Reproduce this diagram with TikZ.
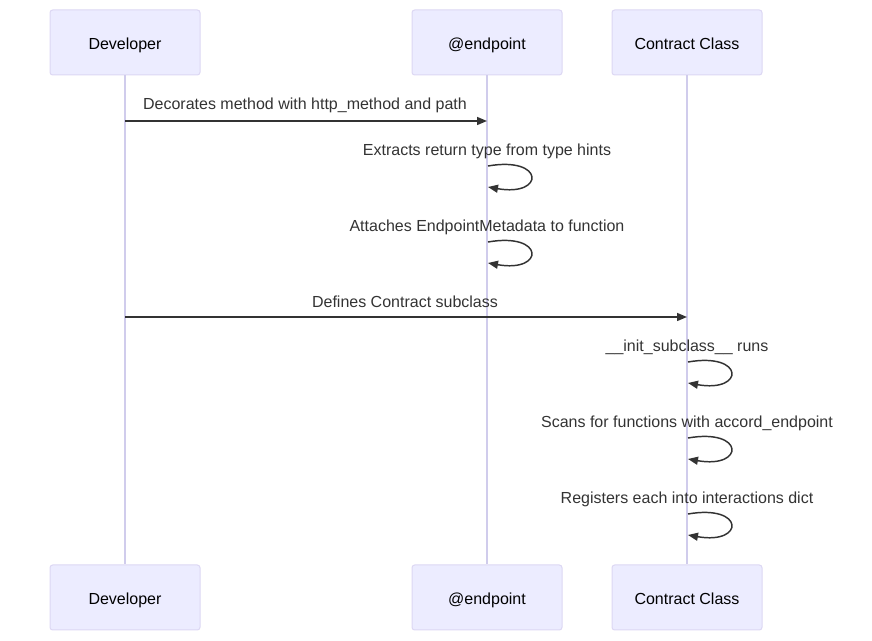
\documentclass[tikz,border=0pt]{standalone}
\usepackage{fontspec}
\setmainfont{Liberation Sans}
\usetikzlibrary{arrows.meta}
\definecolor{actorfill}{HTML}{ECECFF}
\definecolor{actorline}{HTML}{DCD7F3}
\definecolor{lifeline}{HTML}{D0CCEC}
\definecolor{msgline}{HTML}{333333}

\tikzset{
  actor/.style={draw=actorline, fill=actorfill, rounded corners=2pt, line width=0.75pt,
    minimum width=112.5pt, minimum height=48.75pt, inner sep=0pt,
    text height=11.2pt, text depth=0pt,
    font=\fontsize{12}{14}\selectfont},
  life/.style={draw=lifeline, line width=1.1pt},
  msg/.style={draw=msgline, line width=1.1pt, -{Triangle[length=7.5pt,width=6pt]}},
  msgtext/.style={text=msgline, inner sep=0pt, text height=11.2pt, text depth=0pt,
    font=\fontsize{12}{14}\selectfont}
}

\begin{document}
\begin{tikzpicture}[x=0.75pt,y=-0.75pt]
\useasboundingbox (0,0) rectangle (872,641);

% actors, top row
\node[actor] (devtop) at (125,42.5) {Developer};
\node[actor] (endptop) at (487,42.5) {@endpoint};
\node[actor] (contop) at (687,42.5) {Contract Class};
% actors, bottom row
\node[actor] (devbot) at (125,597.5) {Developer};
\node[actor] (endpbot) at (487,597.5) {@endpoint};
\node[actor] (conbot) at (687,597.5) {Contract Class};

% lifelines
\draw[life] (devtop) -- (devbot);
\draw[life] (endptop) -- (endpbot);
\draw[life] (contop) -- (conbot);

% message 1
\coordinate (m1a) at (devtop |- 0,121);
\coordinate (m1b) at (endptop |- 0,121);
\draw[msg] (m1a) -- (m1b);
\node[msgtext] (m1t) at (305,102) {Decorates method with http\_method and path};

% message 4
\coordinate (m4a) at (devtop |- 0,317);
\coordinate (m4b) at (contop |- 0,317);
\draw[msg] (m4a) -- (m4b);
\node[msgtext] (m4t) at (405,300) {Defines Contract subclass};

% self calls
\foreach \who/\y/\txt/\n in {endptop/148/{Extracts return type from type hints}/2,
    endptop/224/{Attaches EndpointMetadata to function}/3,
    contop/344/{\_\_init\_subclass\_\_ runs}/5,
    contop/420/{Scans for functions with accord\_endpoint}/6,
    contop/496/{Registers each into interactions dict}/7}
{
  \node[msgtext] (m\n t) at (\who |- 0,\y) {\txt};
  \coordinate (m\n a) at ([xshift=0.75pt]\who |- 0,\y+18);
  \coordinate (m\n b) at ([xshift=0.75pt]\who |- 0,\y+39);
  \draw[msg] (m\n a) .. controls ([shift={(57,-10)}]m\n a) and ([shift={(57,10)}]m\n b) .. (m\n b);
}
\end{tikzpicture}
\end{document}
